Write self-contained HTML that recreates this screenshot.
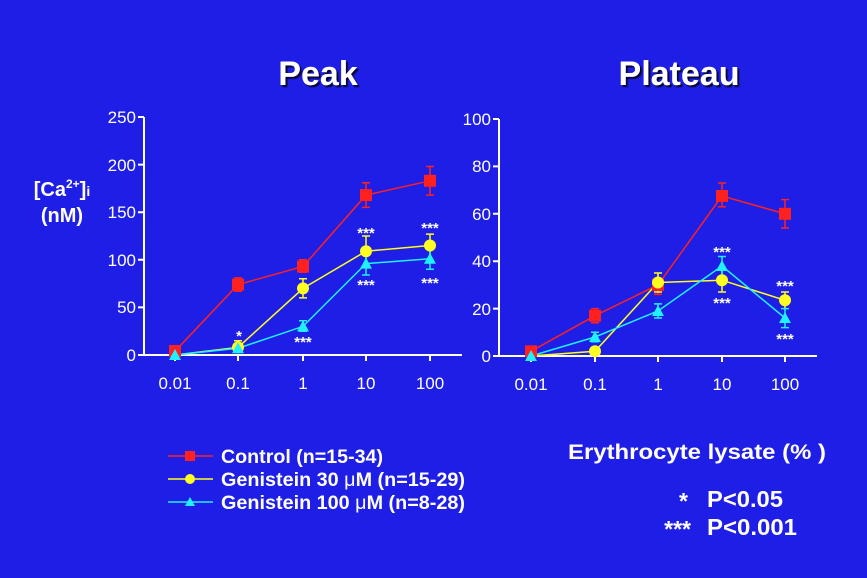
<!DOCTYPE html>
<html><head><meta charset="utf-8"><style>
html,body{margin:0;padding:0;background:#1e1ee6;}
svg{display:block;font-family:"Liberation Sans",Arial,sans-serif;}
</style></head><body>
<svg width="867" height="578" viewBox="0 0 867 578" xmlns="http://www.w3.org/2000/svg">
<rect width="867" height="578" fill="#1e1ee6"/>
<defs><filter id="sh"><feDropShadow dx="2" dy="2" stdDeviation="0.5" flood-color="#000" flood-opacity="0.8"/></filter></defs>
<g font-weight="bold" font-size="34" fill="#fff" text-anchor="middle" filter="url(#sh)">
<text x="318" y="85">Peak</text><text x="679" y="85">Plateau</text></g>

<g stroke="#fff" stroke-width="2" fill="none">
<path d="M144,117 V355 H462"/>
<path d="M138,117H144M138,164.6H144M138,212.2H144M138,259.8H144M138,307.4H144M138,355H144"/>
<path d="M175,355v6M238,355v6M303,355v6M366,355v6M430,355v6"/>
<path d="M499,119 V356 H817"/>
<path d="M493,119H499M493,166.4H499M493,213.8H499M493,261.2H499M493,308.6H499M493,356H499"/>
<path d="M531,356v6M595,356v6M658,356v6M722,356v6M785,356v6"/>
</g>
<g fill="#fff" font-size="17" text-anchor="end">
<text x="136" y="123">250</text><text x="136" y="171">200</text><text x="136" y="218">150</text><text x="136" y="266">100</text><text x="136" y="313">50</text><text x="136" y="361">0</text>
<text x="491" y="125">100</text><text x="491" y="172">80</text><text x="491" y="220">60</text><text x="491" y="267">40</text><text x="491" y="315">20</text><text x="491" y="362">0</text>
</g>
<g fill="#fff" font-size="17" text-anchor="middle">
<text x="175" y="389">0.01</text><text x="238" y="389">0.1</text><text x="303" y="389">1</text><text x="366" y="389">10</text><text x="430" y="389">100</text>
<text x="531" y="390">0.01</text><text x="595" y="390">0.1</text><text x="658" y="390">1</text><text x="722" y="390">10</text><text x="785" y="390">100</text>
</g>
<g fill="#fff" font-weight="bold" font-size="20" text-anchor="middle">
<text x="62" y="196">[Ca<tspan font-size="12" dy="-8">2+</tspan><tspan dy="8">]</tspan><tspan font-size="14">i</tspan></text>
<text x="62" y="222">(nM)</text></g>

<!-- Left chart -->
<g stroke-width="1.5" fill="none">
<path stroke="#ff2020" d="M175,351.2L238,284.6L303,266.5L366,195.1L430,180.8"/>
<path stroke="#ff2020" d="M238,277.9V291.2M234,277.9h8M234,291.2h8M303,259.8V272.2M299,259.8h8M299,272.2h8M366,182.7V207.4M362,182.7h8M362,207.4h8M430,166.5V195.1M426,166.5h8M426,195.1h8"/>
<path stroke="#ffff20" d="M175,355L238,347.4L303,288.4L366,251.2L430,245.5"/>
<path stroke="#ffff20" d="M238,340.7V347M234,340.7h8M303,278.8V297.9M299,278.8h8M299,297.9h8M366,236V265.5M362,236h8M430,234.1V257M426,234.1h8"/>
<path stroke="#20f0ff" d="M175,355L238,348.3L303,326.4L366,263.6L430,258.8"/>
<path stroke="#20f0ff" d="M303,320.7V331.2M299,320.7h8M299,331.2h8M366,252.2V275M362,275h8M430,248.4V269.3M426,269.3h8"/>
</g>
<g fill="#ff2020"><rect x="169" y="345" width="12" height="12"/><rect x="232" y="278.6" width="12" height="12"/><rect x="297" y="260.5" width="12" height="12"/><rect x="360" y="189.1" width="12" height="12"/><rect x="424" y="174.8" width="12" height="12"/></g>
<g fill="#ffff20"><circle cx="238" cy="347.4" r="6"/><circle cx="303" cy="288.4" r="6"/><circle cx="366" cy="251.2" r="6"/><circle cx="430" cy="245.5" r="6"/></g>
<g fill="#20f0ff"><path d="M175,349l6,11h-12z"/><path d="M238,342.3l6,11h-12z"/><path d="M303,320.4l6,11h-12z"/><path d="M366,257.6l6,11h-12z"/><path d="M430,252.8l6,11h-12z"/></g>

<!-- Right chart -->
<g stroke-width="1.5" fill="none">
<path stroke="#ff2020" d="M531,351.3L595,315.7L658,284.9L722,196L785,213.8"/>
<path stroke="#ff2020" d="M595,308.6V322.8M591,308.6h8M591,322.8h8M658,273.1V294.4M654,294.4h8M722,183V206.7M718,183h8M718,206.7h8M785,199.6V228M781,199.6h8M781,228h8"/>
<path stroke="#ffff20" d="M531,356L595,351.3L658,282.5L722,280.2L785,300.3"/>
<path stroke="#ffff20" d="M658,273V292M654,273h8M654,292h8M722,268.3V292M718,292h8M785,292V308.6M781,292h8"/>
<path stroke="#20f0ff" d="M531,356L595,337L658,311L722,266L785,318"/>
<path stroke="#20f0ff" d="M595,332.3V341.8M591,332.3h8M591,341.8h8M658,303.9V318M654,303.9h8M654,318h8M722,256.5V275.4M718,256.5h8M785,308.6V327.6M781,308.6h8M781,327.6h8"/>
</g>
<g fill="#ff2020"><rect x="525" y="345.3" width="12" height="12"/><rect x="589" y="309.7" width="12" height="12"/><rect x="652" y="278.9" width="12" height="12"/><rect x="716" y="190" width="12" height="12"/><rect x="779" y="207.8" width="12" height="12"/></g>
<g fill="#ffff20"><circle cx="595" cy="351.3" r="6"/><circle cx="658" cy="282.5" r="6"/><circle cx="722" cy="280.2" r="6"/><circle cx="785" cy="300.3" r="6"/></g>
<g fill="#20f0ff"><path d="M531,350l6,11h-12z"/><path d="M595,331l6,11h-12z"/><path d="M658,305l6,11h-12z"/><path d="M722,260l6,11h-12z"/><path d="M785,312l6,11h-12z"/></g>

<g fill="#fff" font-size="15" font-weight="bold" text-anchor="middle">
<text x="239" y="341">*</text><text x="303" y="347">***</text>
<text x="366" y="238">***</text><text x="366" y="290">***</text>
<text x="430" y="233">***</text><text x="430" y="288">***</text>
<text x="722" y="257">***</text><text x="722" y="308">***</text>
<text x="785" y="291">***</text><text x="785" y="344">***</text>
</g>

<!-- Legend -->
<g stroke-width="1.5">
<line x1="168" y1="456" x2="213" y2="456" stroke="#ff2020"/>
<line x1="168" y1="479" x2="213" y2="479" stroke="#ffff20"/>
<line x1="168" y1="502" x2="213" y2="502" stroke="#20f0ff"/>
</g>
<rect x="185" y="451" width="10" height="10" fill="#ff2020"/>
<circle cx="190" cy="479" r="5" fill="#ffff20"/>
<path d="M190,497l5,9h-10z" fill="#20f0ff"/>
<g fill="#fff" font-size="19" font-weight="bold">
<text x="221" y="463" textLength="162" lengthAdjust="spacingAndGlyphs">Control (n=15-34)</text>
<text x="221" y="486" textLength="244" lengthAdjust="spacingAndGlyphs">Genistein 30 <tspan font-weight="normal">μ</tspan>M (n=15-29)</text>
<text x="221" y="509" textLength="244" lengthAdjust="spacingAndGlyphs">Genistein 100 <tspan font-weight="normal">μ</tspan>M (n=8-28)</text>
<text x="568" y="459" font-size="21" textLength="258" lengthAdjust="spacingAndGlyphs">Erythrocyte lysate (% )</text>
<text x="688" y="509" font-size="23" text-anchor="end">*</text>
<text x="707" y="507" font-size="23" textLength="76" lengthAdjust="spacingAndGlyphs">P&lt;0.05</text>
<text x="691" y="537" font-size="23" text-anchor="end">***</text>
<text x="707" y="535" font-size="23" textLength="90" lengthAdjust="spacingAndGlyphs">P&lt;0.001</text>
</g>
</svg>
</body></html>
